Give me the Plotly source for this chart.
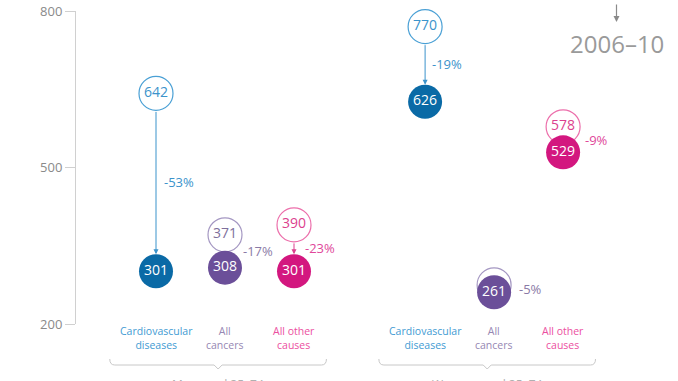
import plotly.graph_objects as go

# ---------------- data ----------------
categories = ["Cardiovascular<br>diseases", "All<br>cancers", "All other<br>causes"]
group_labels = ["Men aged 35–74", "Women aged 35–74"]
period_label = "2006–10"

before_left = [642, 371, 390]
after_left = [301, 308, 301]
change_left = ["-53%", "-17%", "-23%"]

before_right = [770, 275, 578]
after_right = [626, 261, 529]
change_right = ["-19%", "-5%", "-9%"]

y_ticks = [200, 500, 800]

# ---------------- styling ----------------
FONT = "Open Sans"
dark = ["#0a6aa6", "#6b4f99", "#d3177f"]
light = ["#4aa0d5", "#a497c2", "#ec6fab"]
light_text = ["#3b93cb", "#7e6f9c", "#dc3f8e"]
label_col = ["#3f9bd3", "#9687b3", "#ec4f9f"]
pct_col = ["#3b93cb", "#8a7aa6", "#e0479a"]
pct_shift_left = [6, 16, 9]
pct_shift_right = [5, 23, 20]

W, H = 678, 381
ML, MR, MT, MB = 76, 0, 11, 57
plot_w = W - ML - MR
plot_h = H - MT - MB
unit_px = 69.0                       # pixels per x slot
first_center_px = 156
x0 = -(first_center_px - ML) / unit_px
x1 = x0 + plot_w / unit_px
group_offset = [0.0, 3.9]
ymin, ymax = y_ticks[0], y_ticks[-1]
px_per_val = plot_h / (ymax - ymin)
R = 17  # circle radius in px

groups = [
    (before_left, after_left, change_left, pct_shift_left),
    (before_right, after_right, change_right, pct_shift_right),
]

fig = go.Figure()
annotations = []
shapes = []

for g, (bef, aft, chg, shifts) in enumerate(groups):
    xs = [group_offset[g] + i for i in range(len(categories))]
    dists = [(b - a) * px_per_val for b, a in zip(bef, aft)]
    # earlier period: outline circles (label hidden when covered by the later circle)
    fig.add_trace(go.Scatter(
        x=xs, y=bef, mode="markers+text",
        marker=dict(size=2 * R, color="white", line=dict(color=light, width=1.2)),
        text=[str(v) if d > 18 else "" for v, d in zip(bef, dists)],
        textposition="middle center",
        textfont=dict(family=FONT, size=14, color=light_text),
        cliponaxis=False, hoverinfo="skip", showlegend=False))
    # later period: filled circles
    fig.add_trace(go.Scatter(
        x=xs, y=aft, mode="markers+text",
        marker=dict(size=2 * R, color=dark, line=dict(width=0)),
        text=[str(v) for v in aft], textposition="middle center",
        textfont=dict(family=FONT, size=14, color="white"),
        cliponaxis=False, hoverinfo="skip", showlegend=False))

    for i, x in enumerate(xs):
        if dists[i] > 2 * R + 6:
            annotations.append(dict(
                x=x, y=aft[i], xref="x", yref="y",
                ax=x, ay=bef[i], axref="x", ayref="y",
                text="", showarrow=True, arrowhead=2, arrowsize=1,
                arrowwidth=1, arrowcolor=light_text[i],
                standoff=R, startstandoff=R))
        annotations.append(dict(
            x=x, y=(bef[i] + aft[i]) / 2, xref="x", yref="y",
            text=chg[i], showarrow=False, xanchor="left", yanchor="middle",
            xshift=shifts[i], font=dict(family=FONT, size=13, color=pct_col[i])))
        annotations.append(dict(
            x=x, y=-0.045, xref="x", yref="paper",
            text=categories[i], showarrow=False, xanchor="center", yanchor="middle",
            font=dict(family=FONT, size=10.5, color=label_col[i])))

    # bracket under the group
    bx0 = xs[0] - 0.67
    bx1 = xs[-1] + 0.47
    bc = (bx0 + bx1) / 2
    yl = -(365 - (MT + plot_h)) / plot_h
    yt = yl + 6 / plot_h
    yn = yl - 4 / plot_h
    rx = 5 / unit_px
    nx = 4 / unit_px
    path = (f"M {bx0},{yt} Q {bx0},{yl} {bx0 + rx},{yl} "
            f"L {bc - nx},{yl} L {bc},{yn} L {bc + nx},{yl} "
            f"L {bx1 - rx},{yl} Q {bx1},{yl} {bx1},{yt}")
    shapes.append(dict(type="path", path=path, xref="x", yref="paper",
                       line=dict(color="#c8c8c8", width=1)))
    annotations.append(dict(
        x=bc, y=-(384.5 - (MT + plot_h)) / plot_h, xref="x", yref="paper",
        text=group_labels[g], showarrow=False, xanchor="center", yanchor="middle",
        font=dict(family=FONT, size=12, color="#b0b0b0")))

# period label with arrow, top right
annotations.append(dict(
    x=(616.5 - ML) / plot_w, y=(MT + plot_h - 43) / plot_h, xref="paper", yref="paper",
    text=period_label, showarrow=False, xanchor="center", yanchor="middle",
    font=dict(family=FONT, size=24, color="#9a9a9a")))
annotations.append(dict(
    x=(616.5 - ML) / plot_w, y=(MT + plot_h - 22) / plot_h, xref="paper", yref="paper",
    ax=0, ay=-19, text="", showarrow=True, arrowhead=2, arrowsize=1,
    arrowwidth=1.2, arrowcolor="#8a8a8a"))

fig.update_layout(
    width=W, height=H,
    margin=dict(l=ML, r=MR, t=MT, b=MB),
    paper_bgcolor="white", plot_bgcolor="white",
    xaxis=dict(range=[x0, x1], visible=False, fixedrange=True),
    yaxis=dict(range=[ymin, ymax], tickvals=y_ticks, ticktext=[str(t) for t in y_ticks],
               showgrid=False, zeroline=False, showline=True, linecolor="#d0d0d0",
               linewidth=1, ticks="outside", ticklen=10, tickcolor="#d0d0d0",
               tickfont=dict(family=FONT, size=13, color="#8a8a8a"), fixedrange=True),
    annotations=annotations, shapes=shapes,
    showlegend=False,
)

fig.write_html(
    "out.html",
    config={"displayModeBar": False},
    post_script="document.body.style.margin='0px';document.body.style.overflow='hidden';",
)
